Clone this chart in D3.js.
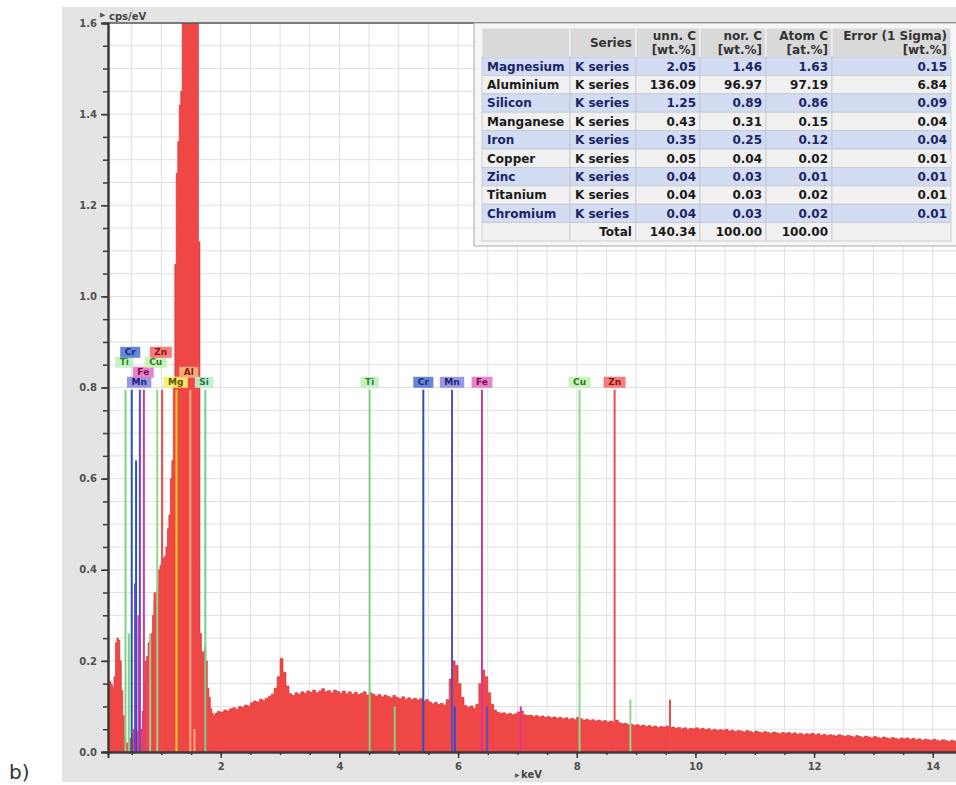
<!DOCTYPE html>
<html>
<head>
<meta charset="utf-8">
<script src="https://cdn.jsdelivr.net/npm/d3@7"></script>
<style>
body{margin:0;background:#fff;}
text{font-family:"DejaVu Sans",Verdana,sans-serif;}
</style>
</head>
<body>
<script>
(function(){

    //spectrum channels (cps/eV), fine channels below 2 keV
    var lowStart = 0.1, lowStep = 0.025;
    var lowCounts = [
        0.150, 0.155, 0.148, 0.142, 0.165, 0.240, 0.250, 0.245, 0.200, 0.135,
        0.080, 0.035, 0.020, 0.020, 0.025, 0.030, 0.040, 0.050, 0.050, 0.045,
        0.040, 0.040, 0.050, 0.090, 0.150, 0.200, 0.210, 0.240, 0.245, 0.260,
        0.300, 0.330, 0.350, 0.360, 0.400, 0.410, 0.420, 0.425, 0.430, 0.450,
        0.490, 0.520, 0.600, 0.640, 0.820, 1.070, 1.270, 1.340, 1.420, 1.450,
        1.700, 2.200, 2.600, 2.900, 3.000, 3.100, 3.000, 2.800, 2.400, 2.000,
        1.700, 1.120, 0.260, 0.220, 0.220, 0.230, 0.200, 0.140, 0.120, 0.095,
        0.085, 0.080, 0.084, 0.086, 0.090, 0.088
    ];
    //coarser channels from 2 keV on
    var highStart = 2.0, highStep = 0.05;
    var highCounts = [
        0.088, 0.092, 0.090, 0.095, 0.097, 0.094, 0.100, 0.098, 0.103, 0.101,
        0.108, 0.112, 0.110, 0.116, 0.113, 0.118, 0.122, 0.127, 0.140, 0.165,
        0.205, 0.175, 0.145, 0.128, 0.124, 0.130, 0.127, 0.132, 0.129, 0.134,
        0.131, 0.136, 0.130, 0.134, 0.139, 0.132, 0.135, 0.130, 0.136, 0.133,
        0.129, 0.134, 0.128, 0.132, 0.127, 0.131, 0.126, 0.129, 0.132, 0.125,
        0.130, 0.127, 0.123, 0.126, 0.121, 0.125, 0.122, 0.119, 0.124, 0.120,
        0.117, 0.121, 0.116, 0.119, 0.115, 0.118, 0.114, 0.117, 0.112, 0.115,
        0.110, 0.106, 0.109, 0.104, 0.107, 0.103, 0.115, 0.160, 0.200, 0.190,
        0.150, 0.120, 0.102, 0.098, 0.101, 0.096, 0.105, 0.150, 0.180, 0.165,
        0.130, 0.105, 0.092, 0.087, 0.085, 0.086, 0.083, 0.085, 0.082, 0.084,
        0.088, 0.090, 0.082, 0.080, 0.081, 0.078, 0.080, 0.077, 0.079, 0.076,
        0.078, 0.075, 0.077, 0.074, 0.076, 0.073, 0.075, 0.072, 0.074, 0.071,
        0.076, 0.073, 0.070, 0.072, 0.069, 0.071, 0.068, 0.070, 0.067, 0.069,
        0.066, 0.068, 0.065, 0.070, 0.064, 0.062, 0.063, 0.060, 0.061, 0.058,
        0.060, 0.057, 0.059, 0.056, 0.058, 0.055, 0.057, 0.054, 0.056, 0.055,
        0.057, 0.053, 0.055, 0.052, 0.054, 0.051, 0.053, 0.050, 0.052, 0.051,
        0.053, 0.050, 0.052, 0.049, 0.051, 0.048, 0.050, 0.047, 0.049, 0.048,
        0.050, 0.046, 0.048, 0.045, 0.047, 0.046, 0.044, 0.047, 0.045, 0.043,
        0.046, 0.044, 0.042, 0.045, 0.043, 0.041, 0.044, 0.042, 0.040, 0.043,
        0.041, 0.043, 0.040, 0.042, 0.039, 0.041, 0.038, 0.040, 0.039, 0.041,
        0.038, 0.040, 0.037, 0.039, 0.036, 0.038, 0.037, 0.035, 0.038, 0.036,
        0.034, 0.037, 0.035, 0.033, 0.036, 0.034, 0.032, 0.035, 0.033, 0.031,
        0.034, 0.032, 0.030, 0.033, 0.031, 0.029, 0.032, 0.030, 0.028, 0.031,
        0.029, 0.031, 0.028, 0.030, 0.027, 0.029, 0.026, 0.028, 0.027, 0.025,
        0.028, 0.026, 0.024, 0.027, 0.025, 0.023, 0.026, 0.024
    ];
    var keVMax = 14.4;

    //axis ticks
    var yTicks = [0, 0.2, 0.4, 0.6, 0.8, 1.0, 1.2, 1.4, 1.6];
    var xTicks = [2, 4, 6, 8, 10, 12, 14];

    //element line markers: element, energy (keV), marker height (cps/eV)
    var lineElem   = ["Ti", "Ti", "Cr", "Cr", "Mn", "Mn", "Fe", "Fe", "Cu", "Cu", "Zn", "Zn", "Mg", "Al", "Al", "Si",
                      "Ti", "Ti", "Cr", "Cr", "Mn", "Mn", "Fe", "Fe", "Cu", "Cu", "Zn", "Zn"];
    var lineKeV    = [0.395, 0.452, 0.500, 0.573, 0.637, 0.556, 0.705, 0.615, 0.930, 0.811, 1.012, 0.884, 1.254, 1.487, 1.557, 1.740,
                      4.510, 4.932, 5.414, 5.946, 5.898, 6.490, 6.403, 7.057, 8.047, 8.904, 8.638, 9.571];
    var lineHeight = [0.795, 0.26, 0.795, 0.64, 0.795, 0.37, 0.795, 0.30, 0.795, 0.26, 0.795, 0.35, 0.795, 0.795, 0.05, 0.795,
                      0.795, 0.10, 0.795, 0.10, 0.795, 0.10, 0.795, 0.10, 0.795, 0.115, 0.795, 0.115];

    //element labels: symbol, energy of label centre, stacking row
    var labelElem = ["Mn", "Fe", "Ti", "Cr", "Cu", "Zn", "Mg", "Al", "Si", "Ti", "Cr", "Mn", "Fe", "Cu", "Zn"];
    var labelKeV  = [0.625, 0.695, 0.375, 0.475, 0.905, 0.990, 1.240, 1.460, 1.720, 4.510, 5.414, 5.898, 6.403, 8.047, 8.638];
    var labelRow  = [0, 1, 2, 3, 2, 3, 0, 1, 0, 0, 0, 0, 0, 0, 0];

    //quantification table
    var tableNames  = ["Magnesium", "Aluminium", "Silicon", "Manganese", "Iron", "Copper", "Zinc", "Titanium", "Chromium"];
    var tableSeries = ["K series", "K series", "K series", "K series", "K series", "K series", "K series", "K series", "K series"];
    var unnC  = ["2.05", "136.09", "1.25", "0.43", "0.35", "0.05", "0.04", "0.04", "0.04"];
    var norC  = ["1.46", "96.97", "0.89", "0.31", "0.25", "0.04", "0.03", "0.03", "0.03"];
    var atomC = ["1.63", "97.19", "0.86", "0.15", "0.12", "0.02", "0.01", "0.02", "0.02"];
    var errC  = ["0.15", "6.84", "0.09", "0.04", "0.04", "0.01", "0.01", "0.01", "0.01"];
    var totalRow = ["", "Total", "140.34", "100.00", "100.00", ""];
    var tableHead = [[""], ["Series"], ["unn. C", "[wt.%]"], ["nor. C", "[wt.%]"], ["Atom C", "[at.%]"], ["Error (1 Sigma)", "[wt.%]"]];

    var elemStyle = {
        Ti: {line: "#7dd67d", box: "#c3efc0", text: "#2a8a2a"},
        Cr: {line: "#2c4fc4", box: "#5a7ad6", text: "#1c2a7a"},
        Mn: {line: "#5b4cc0", box: "#8f8fe0", text: "#1e1e7e"},
        Fe: {line: "#d8369a", box: "#e57ac8", text: "#7a0e50"},
        Cu: {line: "#8fd88a", box: "#c6f0b6", text: "#1f7f1f"},
        Zn: {line: "#f04a4a", box: "#f67272", text: "#8a1010"},
        Mg: {line: "#e6d21a", box: "#f7ef6e", text: "#5e5a00"},
        Al: {line: "#f7aa7a", box: "#f8b384", text: "#8a2400"},
        Si: {line: "#6fd28f", box: "#c0eecd", text: "#1e7a40"}
    };

    window.onload = function(){
        setChart();
    };

    function setChart(){
        var width = 956, height = 785;
        var plotLeft = 108, plotRight = 956.5, plotTop = 23, plotBottom = 752;

        var svg = d3.select("body")
            .append("svg")
            .attr("width", width)
            .attr("height", height);

        //grey frame of the spectrum window
        svg.append("rect")
            .attr("x", 62).attr("y", 7)
            .attr("width", width - 62).attr("height", 775)
            .attr("fill", "#e4e4e4");

        svg.append("rect")
            .attr("x", plotLeft).attr("y", plotTop)
            .attr("width", plotRight - plotLeft).attr("height", plotBottom - plotTop)
            .attr("fill", "#fff");

        var x = d3.scaleLinear()
            .domain([0.1, keVMax])
            .range([plotLeft, plotRight]);

        var y = d3.scaleLinear()
            .domain([0, 1.6])
            .range([plotBottom, plotTop]);

        svg.append("clipPath").attr("id", "plotClip")
            .append("rect")
            .attr("x", plotLeft).attr("y", plotTop)
            .attr("width", plotRight - plotLeft).attr("height", plotBottom - plotTop);

        //grid every 0.5 keV and 0.05 cps/eV
        var grid = svg.append("g").attr("clip-path", "url(#plotClip)");
        grid.selectAll(".vgrid")
            .data(d3.range(0.5, keVMax, 0.5))
            .enter()
            .append("line")
            .attr("x1", function(d){ return x(d); })
            .attr("x2", function(d){ return x(d); })
            .attr("y1", plotTop).attr("y2", plotBottom)
            .attr("stroke", "#e0e0e0").attr("stroke-width", 1);
        grid.selectAll(".hgrid")
            .data(d3.range(0.05, 1.6, 0.05))
            .enter()
            .append("line")
            .attr("x1", plotLeft).attr("x2", plotRight)
            .attr("y1", function(d){ return y(d); })
            .attr("y2", function(d){ return y(d); })
            .attr("stroke", "#e0e0e0").attr("stroke-width", 1);

        //build spectrum points from both channel arrays
        var pts = [];
        lowCounts.forEach(function(v, i){ pts.push([lowStart + i * lowStep, v]); });
        highCounts.forEach(function(v, i){ pts.push([highStart + i * highStep, v]); });
        pts.push([keVMax, highCounts[highCounts.length - 1]]);

        var area = d3.area()
            .curve(d3.curveStepAfter)
            .x(function(d){ return x(d[0]); })
            .y0(plotBottom)
            .y1(function(d){ return y(d[1]); });

        var spec = svg.append("g").attr("clip-path", "url(#plotClip)");
        spec.append("path")
            .datum(pts)
            .attr("d", area)
            .attr("fill", "#ef4646")
            .attr("stroke", "#cf3434")
            .attr("stroke-width", 0.6);

        //element line markers
        spec.selectAll(".marker")
            .data(lineKeV)
            .enter()
            .append("line")
            .attr("x1", function(d){ return x(d); })
            .attr("x2", function(d){ return x(d); })
            .attr("y1", plotBottom)
            .attr("y2", function(d, i){ return y(lineHeight[i]); })
            .attr("stroke", function(d, i){ return elemStyle[lineElem[i]].line; })
            .attr("stroke-width", 2);

        //element labels
        var topY = y(0.795);
        var labels = svg.selectAll(".elabel")
            .data(labelKeV)
            .enter()
            .append("g")
            .attr("transform", function(d, i){
                return "translate(" + x(d) + "," + (topY - 13 - labelRow[i] * 10) + ")";
            });
        labels.each(function(d, i){
            var g = d3.select(this);
            var st = elemStyle[labelElem[i]];
            var r = g.append("rect").attr("y", 0).attr("height", 11)
                .attr("fill", st.box).attr("opacity", 0.92);
            var t = g.append("text")
                .attr("text-anchor", "middle")
                .attr("y", 8.6)
                .attr("font-size", 9)
                .attr("font-weight", "bold")
                .attr("fill", st.text)
                .text(labelElem[i]);
            var w = t.node().getComputedTextLength() + 9;
            r.attr("x", -w / 2).attr("width", w);
        });

        //axes
        svg.append("line")
            .attr("x1", plotLeft).attr("x2", plotRight)
            .attr("y1", plotTop).attr("y2", plotTop)
            .attr("stroke", "#555").attr("stroke-width", 1.5);

        var yMinor = svg.append("g")
            .attr("transform", "translate(" + plotLeft + ",0)")
            .call(d3.axisLeft(y).tickValues(d3.range(0, 1.601, 0.05)).tickSize(5).tickFormat(""));
        var yAxis = svg.append("g")
            .attr("transform", "translate(" + plotLeft + ",0)")
            .call(d3.axisLeft(y).tickValues(yTicks).tickSize(7).tickPadding(4).tickFormat(d3.format(".1f")));

        var xMinor = svg.append("g")
            .attr("transform", "translate(0," + plotBottom + ")")
            .call(d3.axisBottom(x).tickValues(d3.range(0.5, keVMax, 0.5)).tickSize(3).tickFormat(""));
        var xAxis = svg.append("g")
            .attr("transform", "translate(0," + plotBottom + ")")
            .call(d3.axisBottom(x).tickValues(xTicks).tickSize(6).tickPadding(5).tickFormat(d3.format("d")));

        [yMinor, yAxis, xMinor, xAxis].forEach(function(a){
            a.select(".domain").attr("stroke", "#3a3a3a").attr("stroke-width", 2);
            a.selectAll(".tick line").attr("stroke", "#3a3a3a").attr("stroke-width", 1.5);
            a.selectAll("text")
                .attr("font-family", "DejaVu Sans, sans-serif")
                .attr("font-size", 10)
                .attr("font-weight", "bold")
                .attr("fill", "#505050");
        });

        //axis titles
        svg.append("text")
            .attr("x", 100).attr("y", 17)
            .attr("font-size", 7).attr("fill", "#555")
            .text("\u25B6");
        svg.append("text")
            .attr("x", 109).attr("y", 20)
            .attr("font-size", 10).attr("font-weight", "bold").attr("fill", "#444")
            .text("cps/eV");
        svg.append("text")
            .attr("x", 515).attr("y", 777)
            .attr("font-size", 6).attr("fill", "#555")
            .text("\u25B6");
        svg.append("text")
            .attr("x", 521).attr("y", 778)
            .attr("font-size", 10).attr("font-weight", "bold").attr("fill", "#444")
            .text("keV");

        //panel label
        svg.append("text")
            .attr("x", 9).attr("y", 779)
            .attr("font-family", "Liberation Sans, Arial, sans-serif")
            .attr("font-size", 20).attr("fill", "#333")
            .text("b)");

        setTable(svg);
    };

    //quantification results table in the top right corner
    function setTable(svg){
        var colX = [482, 570, 636, 700, 766, 832, 951];
        var headTop = 28, headH = 29, rowH = 18.4;
        var rows = tableNames.map(function(n, i){
            return [n, tableSeries[i], unnC[i], norC[i], atomC[i], errC[i]];
        });
        rows.push(totalRow);

        var tbl = svg.append("g");
        tbl.append("rect")
            .attr("x", 474).attr("y", 23)
            .attr("width", 490).attr("height", headTop - 23 + headH + rows.length * rowH + 5)
            .attr("fill", "#f6f6f6").attr("stroke", "#a8a8a8").attr("stroke-width", 1);

        //header
        tableHead.forEach(function(h, c){
            tbl.append("rect")
                .attr("x", colX[c]).attr("y", headTop)
                .attr("width", colX[c + 1] - colX[c]).attr("height", headH)
                .attr("fill", "#d9d9d9").attr("stroke", "#f6f6f6").attr("stroke-width", 1);
            h.forEach(function(s, k){
                tbl.append("text")
                    .attr("x", colX[c + 1] - 4)
                    .attr("y", h.length == 1 ? headTop + 19 : headTop + 12 + k * 14)
                    .attr("text-anchor", "end")
                    .attr("font-size", 12).attr("font-weight", "bold").attr("fill", "#333")
                    .text(s);
            });
        });

        //body rows
        rows.forEach(function(r, i){
            var top = headTop + headH + i * rowH;
            var blue = (i % 2 == 0) && i < tableNames.length;
            r.forEach(function(s, c){
                tbl.append("rect")
                    .attr("x", colX[c]).attr("y", top)
                    .attr("width", colX[c + 1] - colX[c]).attr("height", rowH)
                    .attr("fill", blue ? "#d2dcf2" : "#f1f1f1")
                    .attr("stroke", "#c4c8d0").attr("stroke-width", 0.8);
                var left = c == 0 || (c == 1 && i < tableNames.length);
                tbl.append("text")
                    .attr("x", left ? colX[c] + 5 : colX[c + 1] - 4)
                    .attr("y", top + 13.5)
                    .attr("text-anchor", left ? "start" : "end")
                    .attr("font-size", 12).attr("font-weight", "bold")
                    .attr("fill", blue ? "#1c2468" : "#1a1a1a")
                    .text(s);
            });
        });
    };

})();
</script>
</body>
</html>
